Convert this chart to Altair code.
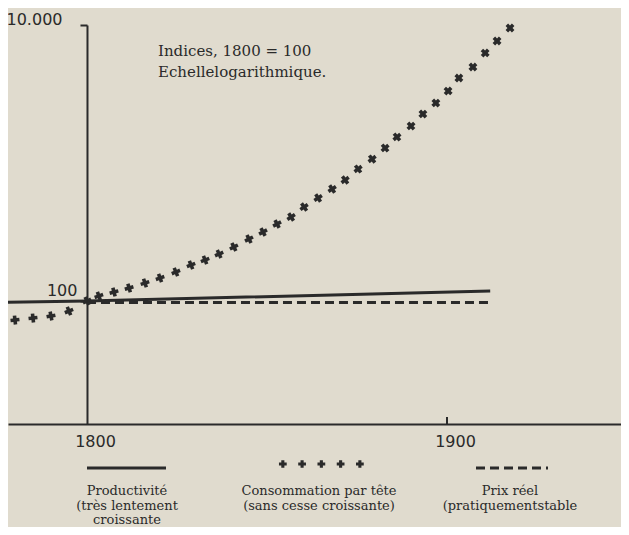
import altair as alt
import pandas as pd
import numpy as np

# ---------------- data ----------------
prod_years = [1778, 1800, 1912]
prod_values = [98, 100, 118]

prix_years = [1800, 1912]
prix_values = [97.5, 97.5]

cons_years = [1780, 1785, 1790, 1795,
              1800, 1803.3, 1807.5, 1811.7, 1816.1, 1820.3, 1824.7, 1828.9, 1832.8, 1836.7,
              1840.8, 1845, 1848.9, 1852.8, 1856.7, 1860.3, 1864.2, 1868.1, 1871.7, 1875.3,
              1879.2, 1882.8, 1886.1, 1890, 1893.3, 1896.9, 1900.3, 1903.3, 1907.2, 1910.6,
              1913.9, 1917.5]
cons_values = [72.8, 75.3, 77.9, 84.6,
               100, 108.7, 116.2, 124.2, 135, 146.8, 162.3, 182.4, 198.2, 219.1,
               246.2, 281.4, 316.2, 361.4, 406.2, 479.9, 557.7, 648.1, 753.2, 904.9,
               1069, 1284, 1543, 1854, 2265, 2721, 3325, 4129, 4962, 6268,
               7659, 9513]

x_ticks = [1800, 1900]
y_ticks = [100, 10000]

annotation = ["Indices, 1800 = 100", "Echellelogarithmique."]
legend_prod = ["Productivité", "(très  lentement", "croissante"]
legend_cons = ["Consommation par tête", "(sans cesse croissante)"]
legend_prix = ["Prix réel", "(pratiquementstable"]

# ---------------- layout ----------------
INK = "#2a2a2a"
PAPER = "#e0dbce"
W, H = 613, 399
X_DOMAIN = [1778.06, 1948.33]
Y_DOMAIN = [12.85, 10000]
PX_PER_YEAR = W / (X_DOMAIN[1] - X_DOMAIN[0])
PX_PER_DECADE = H / (np.log10(Y_DOMAIN[1]) - np.log10(Y_DOMAIN[0]))
AXIS_OFFSET = -(1800 - X_DOMAIN[0]) * PX_PER_YEAR

prod = pd.DataFrame({"year": prod_years, "value": prod_values})
prix = pd.DataFrame({"year": prix_years, "value": prix_values})
cons = pd.DataFrame({"year": cons_years, "value": cons_values})
# rotate each cross so it follows the curve
slope = np.gradient(np.log10(cons["value"]) * PX_PER_DECADE, cons["year"] * PX_PER_YEAR)
alpha = np.degrees(np.arctan(slope))
cons["angle"] = (90 - alpha) % 90

xs = alt.Scale(domain=X_DOMAIN, nice=False, zero=False)
ys = alt.Scale(type="log", domain=Y_DOMAIN, nice=False)

x_axis = alt.Axis(values=x_ticks, title=None, ticks=False, grid=False, format="d",
                  labelFont="DejaVu Sans", labelFontSize=16, labelColor=INK,
                  labelPadding=9, labelOffset=8, domainColor=INK, domainWidth=2)
y_axis = alt.Axis(values=y_ticks, title=None, grid=False, offset=AXIS_OFFSET,
                  labelExpr="datum.value == 10000 ? '10.000' : '100'",
                  labelFont="DejaVu Sans", labelFontSize=16, labelColor=INK,
                  labelBaseline="bottom",
                  labelOffset={"condition": {"test": "datum.value == 10000", "value": 2},
                               "value": -3},
                  labelPadding={"condition": {"test": "datum.value == 10000", "value": 18},
                                "value": 3},
                  tickSize=7, tickWidth=2, tickColor=INK,
                  domainColor=INK, domainWidth=2)

X = alt.X("year:Q", scale=xs, axis=x_axis)
Y = alt.Y("value:Q", scale=ys, axis=y_axis)

base_prod = alt.Chart(prod).mark_line(color=INK, strokeWidth=3, clip=False).encode(x=X, y=Y)
base_prix = alt.Chart(prix).mark_line(color=INK, strokeWidth=3, strokeDash=[9, 5]).encode(
    x=alt.X("year:Q", scale=xs), y=alt.Y("value:Q", scale=ys))
pts = alt.Chart(cons).mark_point(shape="cross", filled=True, size=80, color=INK,
                                 opacity=1, clip=False).encode(
    x=alt.X("year:Q", scale=xs), y=alt.Y("value:Q", scale=ys),
    angle=alt.Angle("angle:Q", scale=None))

tick1900 = alt.Chart(pd.DataFrame({"year": [1900]})).mark_rule(color=INK, strokeWidth=2).encode(
    x=alt.X("year:Q", scale=xs), y=alt.value(H - 7), y2=alt.value(H))

dummy = pd.DataFrame({"a": [0]})
note = alt.Chart(dummy).mark_text(align="left", baseline="top", font="DejaVu Serif",
                                  fontSize=15, lineHeight=21, color=INK).encode(
    x=alt.value(150), y=alt.value(19), text=alt.value(annotation))

# legend
leg_solid = alt.Chart(dummy).mark_rule(color=INK, strokeWidth=3).encode(
    x=alt.value(79), x2=alt.value(158), y=alt.value(443))
leg_dash = alt.Chart(dummy).mark_rule(color=INK, strokeWidth=3, strokeDash=[9, 5]).encode(
    x=alt.value(468), x2=alt.value(540), y=alt.value(443))
leg_pts_df = pd.DataFrame({"year": np.linspace(1854.4, 1875.8, 5)})
leg_pts = alt.Chart(leg_pts_df).mark_point(shape="cross", filled=True, size=60, color=INK,
                                          opacity=1, clip=False).encode(
    x=alt.X("year:Q", scale=xs), y=alt.value(439))

def legend_text(lines, cx):
    return alt.Chart(dummy).mark_text(align="center", baseline="middle", font="DejaVu Serif",
                                      fontSize=13, lineHeight=14.5, color=INK).encode(
        x=alt.value(cx), y=alt.value(466), text=alt.value(lines))

chart = alt.layer(
    base_prod, base_prix, pts, tick1900, note,
    leg_solid, leg_dash, leg_pts,
    legend_text(legend_prod, 119), legend_text(legend_cons, 311), legend_text(legend_prix, 502),
).properties(
    width=W, height=H,
    autosize=alt.AutoSizeParams(type="none"),
    padding={"left": 0, "top": 17, "right": 0, "bottom": 103},
    background=PAPER,
).configure_view(stroke=None)

chart.save("out.html", embed_options={"renderer": "svg", "actions": False})
